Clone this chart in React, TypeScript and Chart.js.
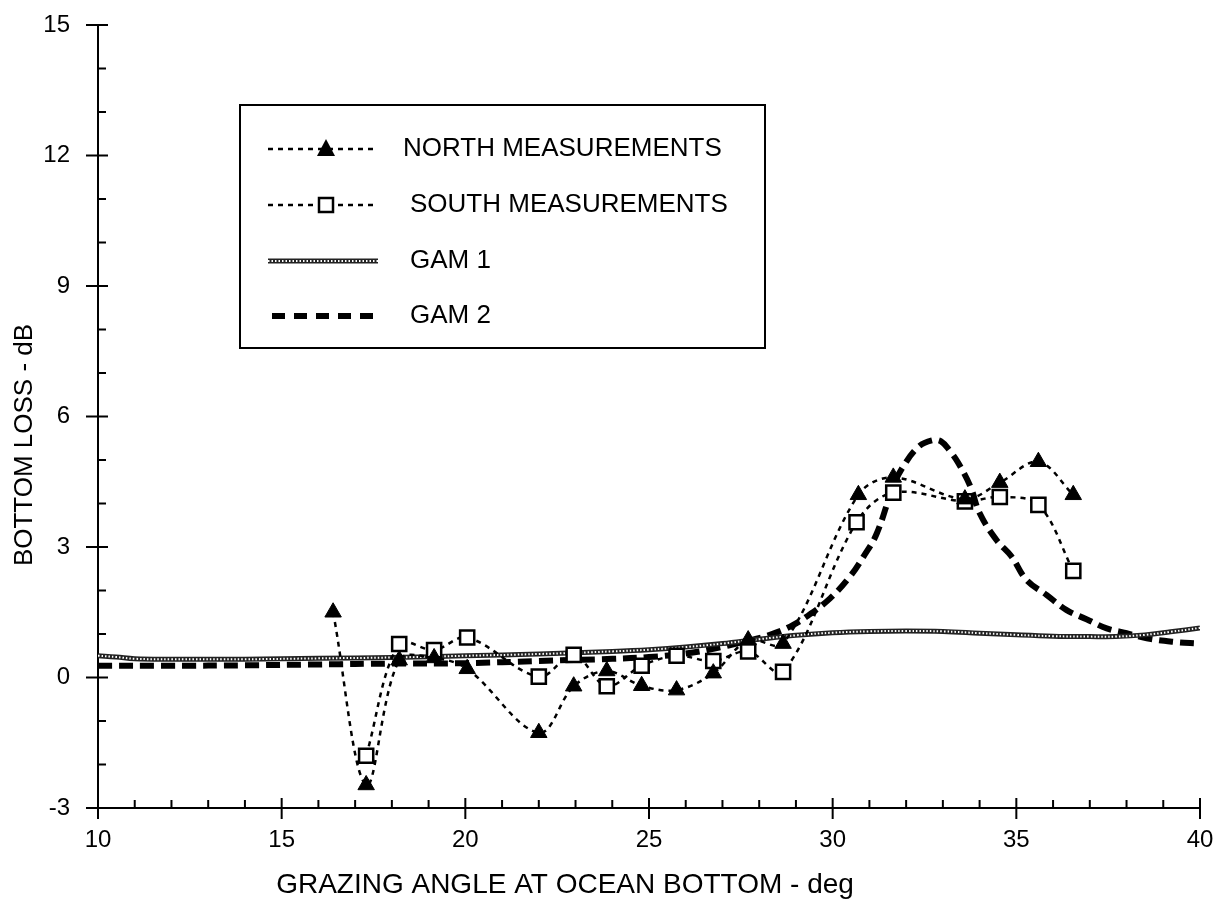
import React, { useEffect, useRef } from "react";
import { Chart, registerables } from "chart.js";

Chart.register(...registerables);

// ---- data ----
const northX = [16.4, 17.3, 18.2, 19.15, 20.05, 22.0, 22.95, 23.85, 24.8, 25.75, 26.75, 27.7, 28.65, 30.7, 31.65, 33.6, 34.55, 35.6, 36.55];
const northY = [1.5, -2.47, 0.4, 0.45, 0.2, -1.27, -0.2, 0.15, -0.19, -0.29, 0.1, 0.86, 0.78, 4.2, 4.6, 4.1, 4.48, 4.96, 4.2];

const southX = [17.3, 18.2, 19.15, 20.05, 22.0, 22.95, 23.85, 24.8, 25.75, 26.75, 27.7, 28.65, 30.65, 31.65, 33.6, 34.55, 35.6, 36.55];
const southY = [-1.8, 0.77, 0.63, 0.92, 0.02, 0.52, -0.2, 0.27, 0.5, 0.38, 0.6, 0.13, 3.57, 4.25, 4.05, 4.15, 3.97, 2.45];

const gam1X = [10, 10.5, 11, 12, 14, 16, 18, 20, 22, 24, 25, 26, 27, 28, 29, 30, 31, 32, 33, 34, 35, 36, 37, 37.7, 38.5, 39.2, 40];
const gam1Y = [0.5, 0.47, 0.43, 0.42, 0.42, 0.44, 0.46, 0.5, 0.54, 0.6, 0.64, 0.7, 0.78, 0.88, 0.97, 1.03, 1.06, 1.07, 1.06, 1.02, 0.98, 0.95, 0.94, 0.94, 0.98, 1.05, 1.14];

const gam2X = [10, 12, 14, 16, 18, 20, 22, 24, 25, 26, 26.75, 27.57, 28.29, 28.84, 29.29, 29.93, 30.47, 30.84, 31.2, 31.65, 31.92, 32.33, 32.7, 32.95, 33.2, 33.42, 33.75, 34.0, 34.46, 34.87, 35.28, 35.82, 36.37, 36.91, 37.46, 38.0, 38.55, 39.27, 40];
const gam2Y = [0.27, 0.27, 0.28, 0.3, 0.32, 0.33, 0.38, 0.43, 0.47, 0.55, 0.66, 0.82, 0.98, 1.17, 1.4, 1.82, 2.32, 2.78, 3.31, 4.4, 4.85, 5.3, 5.45, 5.43, 5.2, 4.93, 4.39, 3.78, 3.16, 2.78, 2.24, 1.9, 1.55, 1.34, 1.13, 1.02, 0.9, 0.82, 0.78];

const xTickValues = [10, 15, 20, 25, 30, 35, 40];
const yTickValues = [-3, 0, 3, 6, 9, 12, 15];
const legendLabels = ["NORTH MEASUREMENTS", "SOUTH MEASUREMENTS", "GAM 1", "GAM 2"];
const xTitle = "GRAZING ANGLE AT OCEAN BOTTOM - deg";
const yTitle = "BOTTOM LOSS - dB";

const FONT = "'Liberation Sans', Arial, Helvetica, sans-serif";

const pts = (xs: number[], ys: number[]) => xs.map((x, i) => ({ x, y: ys[i] }));

const tickPlugin = {
  id: "customTicks",
  afterDraw(chart: any) {
    const { ctx, scales } = chart;
    const xs = scales.x;
    const ys = scales.y;
    const axisX = xs.left;
    const axisY = ys.bottom;
    ctx.save();
    ctx.strokeStyle = "#000";
    ctx.lineWidth = 2;
    ctx.beginPath();
    for (let v = xs.min; v <= xs.max + 1e-9; v += 1) {
      const px = xs.getPixelForValue(v);
      if (xTickValues.includes(v)) {
        ctx.moveTo(px, axisY - 10);
        ctx.lineTo(px, axisY + 11);
      } else {
        ctx.moveTo(px, axisY - 8);
        ctx.lineTo(px, axisY);
      }
    }
    for (let v = ys.min; v <= ys.max + 1e-9; v += 1) {
      const py = ys.getPixelForValue(v);
      if (yTickValues.includes(v)) {
        ctx.moveTo(axisX - 12, py);
        ctx.lineTo(axisX + 10, py);
      } else {
        ctx.moveTo(axisX, py);
        ctx.lineTo(axisX + 8, py);
      }
    }
    ctx.stroke();

    // axis titles
    ctx.fillStyle = "#000";
    ctx.textAlign = "center";
    ctx.textBaseline = "middle";
    ctx.font = `28px ${FONT}`;
    ctx.fillText(xTitle, 565, 885);
    ctx.translate(25, 445);
    ctx.rotate(-Math.PI / 2);
    ctx.font = `26px ${FONT}`;
    ctx.fillText(yTitle, 0, 0);
    ctx.restore();
  },
};

const drawGam1Sample = (ctx: CanvasRenderingContext2D, x1: number, x2: number, y: number) => {
  ctx.save();
  ctx.setLineDash([]);
  ctx.strokeStyle = "#222";
  ctx.lineWidth = 5;
  ctx.beginPath();
  ctx.moveTo(x1, y);
  ctx.lineTo(x2, y);
  ctx.stroke();
  ctx.strokeStyle = "#fff";
  ctx.lineWidth = 2;
  ctx.setLineDash([1.5, 2]);
  ctx.beginPath();
  ctx.moveTo(x1, y);
  ctx.lineTo(x2, y);
  ctx.stroke();
  ctx.restore();
};

const legendPlugin = {
  id: "boxLegend",
  afterDraw(chart: any) {
    const { ctx } = chart;
    const box = { left: 240, top: 105, right: 765, bottom: 348 };
    const rows = [149, 205, 261, 316];
    const s1 = 268;
    const s2 = 378;
    const mid = 326;
    ctx.save();
    ctx.fillStyle = "#fff";
    ctx.fillRect(box.left, box.top, box.right - box.left, box.bottom - box.top);
    ctx.strokeStyle = "#000";
    ctx.lineWidth = 2;
    ctx.strokeRect(box.left, box.top, box.right - box.left, box.bottom - box.top);

    // north
    ctx.lineWidth = 2.5;
    ctx.setLineDash([5, 5]);
    ctx.beginPath();
    ctx.moveTo(s1, rows[0]);
    ctx.lineTo(s2, rows[0]);
    ctx.stroke();
    ctx.setLineDash([]);
    ctx.fillStyle = "#000";
    ctx.beginPath();
    ctx.moveTo(mid, rows[0] - 10);
    ctx.lineTo(mid + 9, rows[0] + 7);
    ctx.lineTo(mid - 9, rows[0] + 7);
    ctx.closePath();
    ctx.fill();

    // south
    ctx.setLineDash([5, 5]);
    ctx.beginPath();
    ctx.moveTo(s1, rows[1]);
    ctx.lineTo(s2, rows[1]);
    ctx.stroke();
    ctx.setLineDash([]);
    ctx.fillStyle = "#fff";
    ctx.fillRect(mid - 7, rows[1] - 7, 14, 14);
    ctx.strokeRect(mid - 7, rows[1] - 7, 14, 14);

    // gam 1
    drawGam1Sample(ctx, s1, s2, rows[2]);

    // gam 2
    ctx.strokeStyle = "#000";
    ctx.lineWidth = 6;
    ctx.setLineDash([13, 9]);
    ctx.beginPath();
    ctx.moveTo(s1 + 4, rows[3]);
    ctx.lineTo(s2, rows[3]);
    ctx.stroke();
    ctx.setLineDash([]);

    ctx.fillStyle = "#000";
    ctx.font = `26px ${FONT}`;
    ctx.textBaseline = "middle";
    ctx.textAlign = "left";
    ctx.fillText(legendLabels[0], 403, rows[0]);
    ctx.fillText(legendLabels[1], 410, rows[1]);
    ctx.fillText(legendLabels[2], 410, rows[2]);
    ctx.fillText(legendLabels[3], 410, rows[3]);
    ctx.restore();
  },
};

export default function App() {
  const ref = useRef<HTMLCanvasElement | null>(null);

  useEffect(() => {
    document.body.style.margin = "0";
    const canvas = ref.current;
    if (!canvas) return;
    const chart = new Chart(canvas, {
      type: "scatter",
      data: {
        datasets: [
          {
            label: legendLabels[0],
            data: pts(northX, northY),
            showLine: true,
            tension: 0.35,
            borderColor: "#000",
            borderWidth: 2.5,
            borderDash: [5, 5],
            pointStyle: "triangle",
            pointRadius: 9.5,
            pointBackgroundColor: "#000",
            pointBorderColor: "#000",
            pointBorderWidth: 1,
          },
          {
            label: legendLabels[1],
            data: pts(southX, southY),
            showLine: true,
            tension: 0.35,
            borderColor: "#000",
            borderWidth: 2.5,
            borderDash: [5, 5],
            pointStyle: "rect",
            pointRadius: 10,
            pointBackgroundColor: "#fff",
            pointBorderColor: "#000",
            pointBorderWidth: 2.5,
          },
          {
            label: "gam1-texture",
            data: pts(gam1X, gam1Y),
            showLine: true,
            tension: 0.4,
            borderColor: "#fff",
            borderWidth: 2,
            borderDash: [1.5, 2],
            pointRadius: 0,
          },
          {
            label: legendLabels[2],
            data: pts(gam1X, gam1Y),
            showLine: true,
            tension: 0.4,
            borderColor: "#222",
            borderWidth: 5,
            pointRadius: 0,
          },
          {
            label: legendLabels[3],
            data: pts(gam2X, gam2Y),
            showLine: true,
            tension: 0.4,
            borderColor: "#000",
            borderWidth: 6,
            borderDash: [14, 7],
            pointRadius: 0,
          },
        ],
      },
      options: {
        animation: false,
        responsive: false,
        maintainAspectRatio: false,
        layout: { padding: { top: 25, right: 16, left: 0, bottom: 0 } },
        plugins: {
          legend: { display: false },
          tooltip: { enabled: false },
        },
        scales: {
          x: {
            type: "linear",
            min: 10,
            max: 40,
            afterFit: (s: any) => {
              s.height = 95;
              s.paddingLeft = 0;
              s.paddingRight = 0;
            },
            afterBuildTicks: (s: any) => {
              s.ticks = xTickValues.map((v) => ({ value: v }));
            },
            grid: { display: false, drawTicks: true, tickLength: 12 },
            border: { display: true, color: "#000", width: 2 },
            ticks: {
              color: "#000",
              padding: 6,
              maxRotation: 0,
              font: { family: FONT, size: 24 },
            },
            title: { display: false },
          },
          y: {
            type: "linear",
            min: -3,
            max: 15,
            afterFit: (s: any) => {
              s.width = 98;
              s.paddingTop = 0;
              s.paddingBottom = 0;
            },
            afterBuildTicks: (s: any) => {
              s.ticks = yTickValues.map((v) => ({ value: v }));
            },
            grid: { display: false, drawTicks: true, tickLength: 12 },
            border: { display: true, color: "#000", width: 2 },
            ticks: {
              color: "#000",
              padding: 16,
              font: { family: FONT, size: 24 },
            },
            title: { display: false },
          },
        },
      },
      plugins: [tickPlugin, legendPlugin],
    } as any);
    return () => chart.destroy();
  }, []);

  return (
    <div style={{ width: 1216, height: 903, background: "#fff" }}>
      <canvas ref={ref} width={1216} height={903} style={{ display: "block" }} />
    </div>
  );
}
